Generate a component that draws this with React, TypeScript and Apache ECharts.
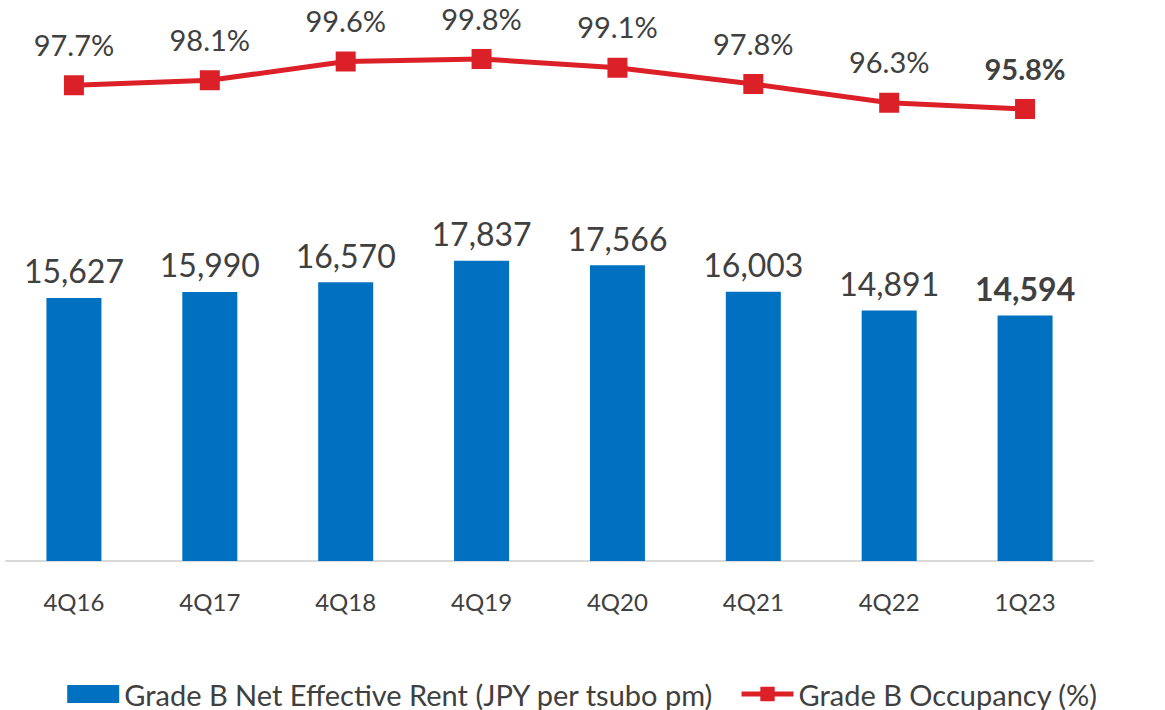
import React, { useEffect, useRef } from "react";
import * as echarts from "echarts";

const categories = ["4Q16", "4Q17", "4Q18", "4Q19", "4Q20", "4Q21", "4Q22", "1Q23"];
const rentValues = [15627, 15990, 16570, 17837, 17566, 16003, 14891, 14594];
const occupancyValues = [97.7, 98.1, 99.6, 99.8, 99.1, 97.8, 96.3, 95.8];
const rentName = "Grade B Net Effective Rent (JPY per tsubo pm)";
const occName = "Grade B Occupancy (%)";

const FONT = "Lato";
const TEXT = "#404040";
const BLUE = "#0070C0";
const RED = "#DC2028";

export default function App() {
  const ref = useRef<HTMLDivElement>(null);
  useEffect(() => {
    if (!ref.current) return;
    const chart = echarts.init(ref.current, undefined, { renderer: "svg" });
    const last = categories.length - 1;
    chart.setOption({
      animation: false,
      textStyle: { fontFamily: FONT, color: TEXT },
      grid: { left: 6, right: 72, top: 22, bottom: 149, containLabel: false },
      legend: {
        left: "center",
        top: 674,
        itemGap: 25,
        itemWidth: 52,
        itemHeight: 18,
        textStyle: { fontFamily: FONT, fontSize: 29, lineHeight: 30, color: TEXT },
        data: [
          { name: rentName, icon: "rect" },
          { name: occName, lineStyle: { width: 5 } },
        ],
      },
      xAxis: {
        type: "category",
        data: categories,
        axisLine: { show: true, lineStyle: { color: "#D9D9D9", width: 2 } },
        axisTick: { show: false },
        axisLabel: { fontFamily: FONT, fontSize: 24, color: TEXT, margin: 28 },
      },
      yAxis: [
        { type: "value", min: 0, max: 32026, show: false, splitLine: { show: false } },
        { type: "value", min: 59.64, max: 102.76, show: false, splitLine: { show: false } },
      ],
      series: [
        {
          name: rentName,
          type: "bar",
          yAxisIndex: 0,
          barWidth: 55,
          itemStyle: { color: BLUE },
          label: {
            show: true,
            position: "top",
            distance: 11,
            fontFamily: FONT,
            fontSize: 32,
            color: TEXT,
            formatter: (p: any) => Number(p.value).toLocaleString("en-US"),
          },
          data: rentValues.map((v, i) =>
            i === last ? { value: v, label: { fontWeight: "bold" } } : v
          ),
        },
        {
          name: occName,
          type: "line",
          yAxisIndex: 1,
          symbol: "rect",
          symbolSize: 20,
          lineStyle: { color: RED, width: 5 },
          itemStyle: { color: RED },
          label: {
            show: true,
            position: "top",
            distance: 18,
            fontFamily: FONT,
            fontSize: 29,
            lineHeight: 26,
            color: TEXT,
            formatter: (p: any) => Number(p.value).toFixed(1) + "%",
          },
          data: occupancyValues.map((v, i) =>
            i === last ? { value: v, label: { fontWeight: "bold" } } : v
          ),
        },
      ],
    });
    return () => chart.dispose();
  }, []);
  return (
    <div
      ref={ref}
      style={{ position: "absolute", left: 0, top: 0, width: 1165, height: 710 }}
    />
  );
}
